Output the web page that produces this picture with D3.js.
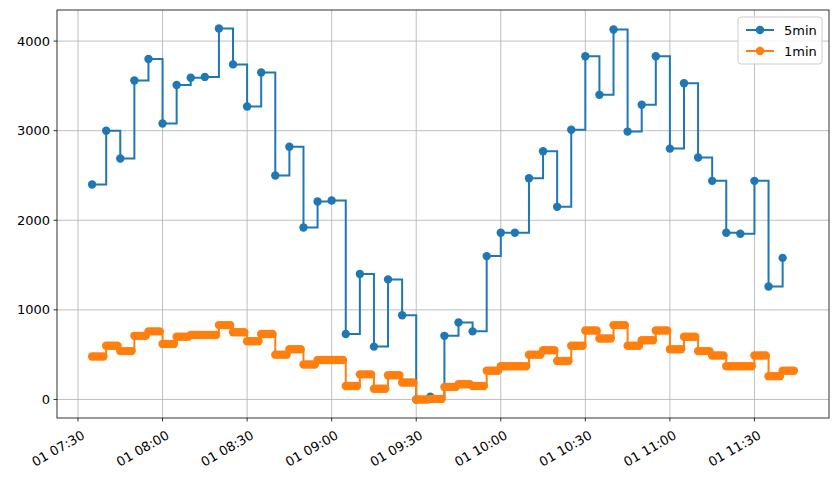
<!DOCTYPE html>
<html><head><meta charset="utf-8">
<script src="https://cdn.jsdelivr.net/npm/d3@7"></script>
<style>body{margin:0;background:#fff}svg{font-family:"DejaVu Sans",sans-serif}</style>
</head><body><svg id="c" width="839" height="480"></svg>
<script>
const startTime = "2000-01-01T07:35:00";
const values5min = [2400,3000,2690,3560,3800,3080,3510,3590,3600,4140,3740,3270,3650,2500,2820,1920,2210,2220,730,1400,590,1340,940,0,30,710,860,760,1600,1860,1860,2470,2770,2150,3010,3830,3400,4130,2990,3290,3830,2800,3530,2700,2440,1860,1850,2440,1260,1580];
const values1minPerBlock = [480,600,540,710,760,620,700,720,720,830,750,650,730,500,560,390,440,440,150,280,120,270,190,0,6,140,170,150,320,370,370,500,550,430,600,770,680,830,600,660,770,560,700,540,490,370,370,490,260,320];
const yTicks = [0,1000,2000,3000,4000];
const xTickLabels = ["01 07:30","01 08:00","01 08:30","01 09:00","01 09:30","01 10:00","01 10:30","01 11:00","01 11:30"];

const t0 = new Date(startTime);
const min = m => new Date(t0.getTime() + m*60000);
const d5 = values5min.map((v,i)=>({t:min(i*5),v}));
const d1 = [];
values1minPerBlock.forEach((v,i)=>{for(let k=0;k<5;k++) d1.push({t:min(i*5+k),v});});

const L=57,R=829,T=10,B=418;
const svg=d3.select("#c");
const x=d3.scaleTime().domain([min(-12.45),min(249+12.45)]).range([L,R]);
const y=d3.scaleLinear().domain([-207,4347]).range([B,T]);
const xt = xTickLabels.map((s,i)=>min(-5+30*i));

const g=svg.append("g");
g.selectAll(".gx").data(xt).join("line").attr("x1",d=>x(d)).attr("x2",d=>x(d)).attr("y1",T).attr("y2",B).attr("stroke","#b0b0b0").attr("stroke-width",0.8);
g.selectAll(".gy").data(yTicks).join("line").attr("y1",d=>y(d)).attr("y2",d=>y(d)).attr("x1",L).attr("x2",R).attr("stroke","#b0b0b0").attr("stroke-width",0.8);

const line=d3.line().x(d=>x(d.t)).y(d=>y(d.v)).curve(d3.curveStepAfter);
svg.append("path").datum(d5).attr("d",line).attr("fill","none").attr("stroke","#1f77b4").attr("stroke-width",2);
svg.selectAll(".m5").data(d5).join("circle").attr("cx",d=>x(d.t)).attr("cy",d=>y(d.v)).attr("r",4.2).attr("fill","#1f77b4");
svg.append("path").datum(d1).attr("d",line).attr("fill","none").attr("stroke","#ff7f0e").attr("stroke-width",2);
svg.selectAll(".m1").data(d1).join("circle").attr("cx",d=>x(d.t)).attr("cy",d=>y(d.v)).attr("r",4.2).attr("fill","#ff7f0e");

svg.append("rect").attr("x",L).attr("y",T).attr("width",R-L).attr("height",B-T).attr("fill","none").attr("stroke","#000").attr("stroke-width",0.8);

// y axis
yTicks.forEach(v=>{
  svg.append("line").attr("x1",L-3.5).attr("x2",L).attr("y1",y(v)).attr("y2",y(v)).attr("stroke","#000").attr("stroke-width",0.8);
  svg.append("text").attr("x",L-7).attr("y",y(v)).attr("dy","0.35em").attr("text-anchor","end").attr("font-size",13).text(v);
});
// x axis
xt.forEach((t,i)=>{
  svg.append("line").attr("x1",x(t)).attr("x2",x(t)).attr("y1",B).attr("y2",B+3.5).attr("stroke","#000").attr("stroke-width",0.8);
  svg.append("text").attr("transform",`translate(${x(t)+3},${B+12}) rotate(-30)`).attr("text-anchor","end").attr("dy","0.7em").attr("font-size",13).text(xTickLabels[i]);
});

// legend
const lg=svg.append("g").attr("transform","translate(738,17)");
lg.append("rect").attr("width",84).attr("height",47).attr("rx",3).attr("fill","#fff").attr("fill-opacity",0.8).attr("stroke","#ccc");
[["5min","#1f77b4"],["1min","#ff7f0e"]].forEach(([n,c],i)=>{
  const yy=13+i*21;
  lg.append("line").attr("x1",8).attr("x2",36).attr("y1",yy).attr("y2",yy).attr("stroke",c).attr("stroke-width",2);
  lg.append("circle").attr("cx",22).attr("cy",yy).attr("r",4.2).attr("fill",c);
  lg.append("text").attr("x",46).attr("y",yy).attr("dy","0.35em").attr("font-size",13).text(n);
});
</script></body></html>
